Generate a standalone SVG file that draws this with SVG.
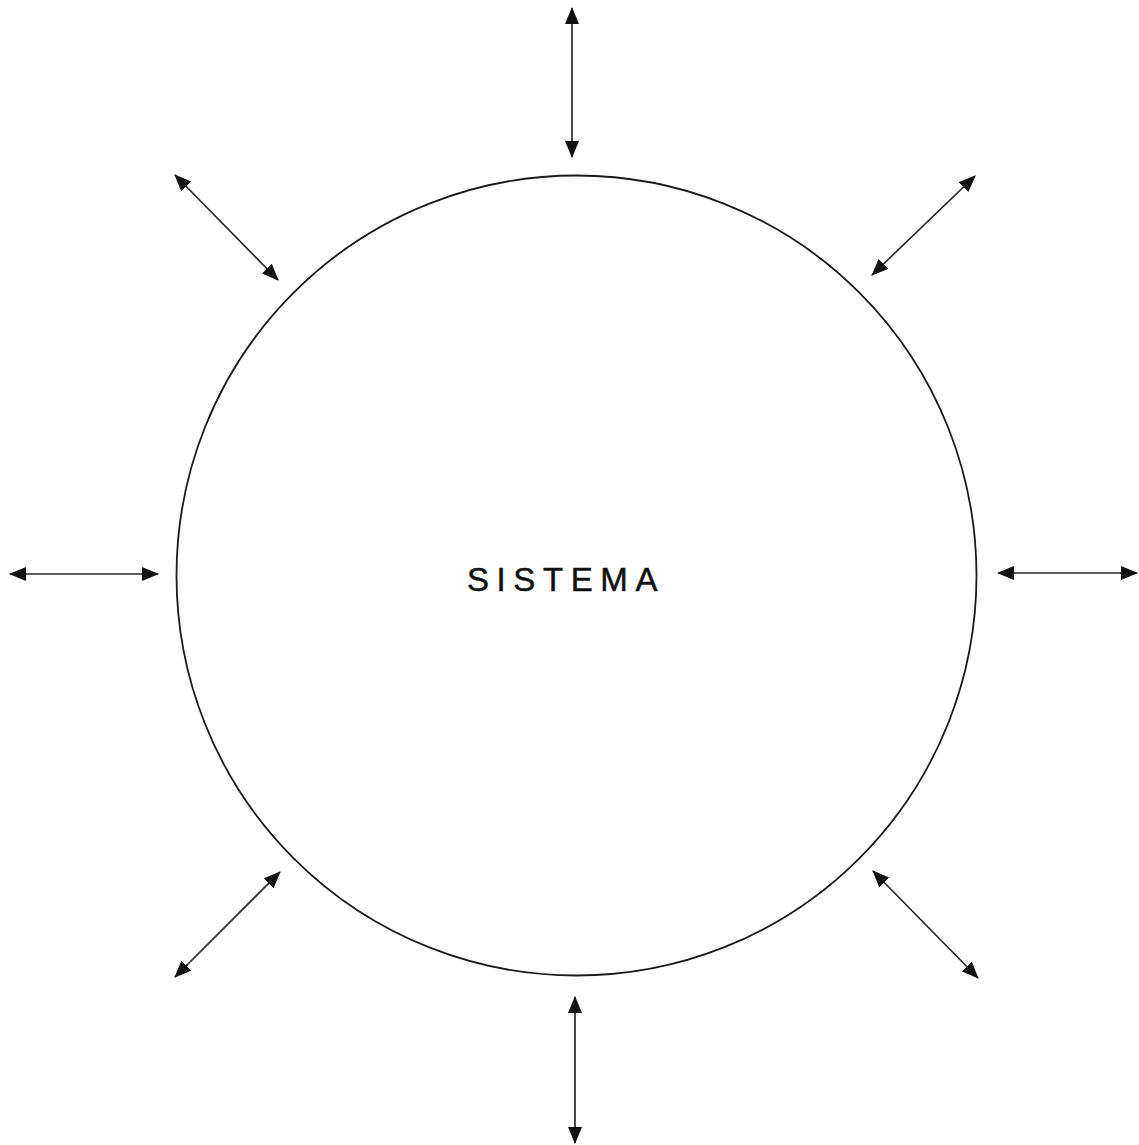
<svg xmlns="http://www.w3.org/2000/svg" width="1139" height="1145" viewBox="0 0 1139 1145">
<style>
.c{fill:none;stroke:#1a1a1a;stroke-width:1.8}
.a{stroke:#2a2a2a;stroke-width:1.7;fill:none;marker-start:url(#h);marker-end:url(#h)}
.t{font-family:"Liberation Sans",Arial,sans-serif;font-size:33px;fill:#111;stroke:#111;stroke-width:0.5;letter-spacing:7.6px}
</style>
<defs>
<marker id="h" viewBox="0 0 17 14" refX="16" refY="7" markerWidth="17" markerHeight="14" markerUnits="userSpaceOnUse" orient="auto-start-reverse">
<path d="M0,0 L17,7 L0,14 Z" fill="#111"/>
</marker>
</defs>
<rect width="1139" height="1145" fill="#fff"/>
<g id="sistema">
<circle class="c" cx="576.5" cy="575.5" r="400"/>
<text class="t" x="566" y="591" text-anchor="middle">SISTEMA</text>
</g>
<g id="connectors">
<line class="a" x1="572" y1="8" x2="572" y2="157"/>
<line class="a" x1="175" y1="175" x2="278" y2="280"/>
<line class="a" x1="975" y1="176" x2="872" y2="275"/>
<line class="a" x1="10" y1="574" x2="158" y2="574"/>
<line class="a" x1="998" y1="573" x2="1137" y2="573"/>
<line class="a" x1="175" y1="977" x2="280" y2="872"/>
<line class="a" x1="873" y1="871" x2="978" y2="978"/>
<line class="a" x1="575" y1="997" x2="575" y2="1143"/>
</g>
</svg>
